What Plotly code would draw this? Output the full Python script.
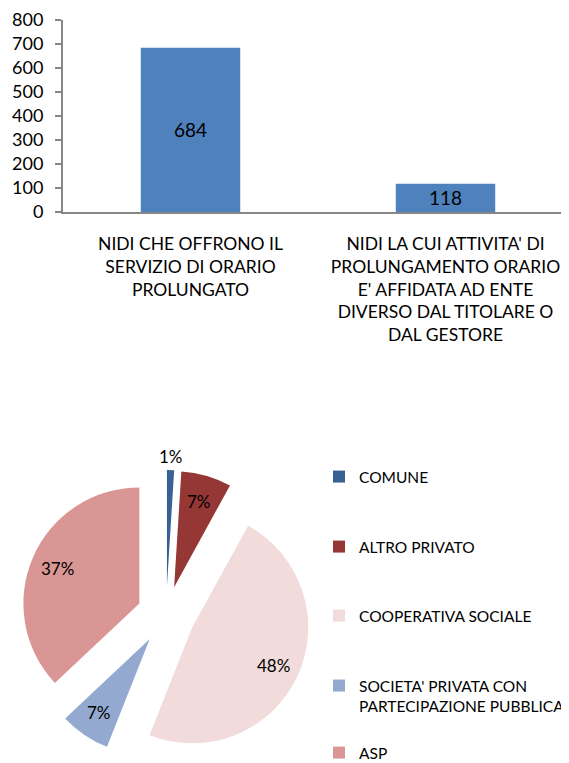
import math
import plotly.graph_objects as go

# ---- data ----
bar_categories = [
    "NIDI CHE OFFRONO IL<br>SERVIZIO DI ORARIO<br>PROLUNGATO",
    "NIDI LA CUI ATTIVITA' DI<br>PROLUNGAMENTO ORARIO<br>E' AFFIDATA AD ENTE<br>DIVERSO DAL TITOLARE O<br>DAL GESTORE",
]
bar_values = [684, 118]

pie_labels = ["COMUNE", "ALTRO PRIVATO", "COOPERATIVA SOCIALE",
              "SOCIETA' PRIVATA CON<br>PARTECIPAZIONE PUBBLICA", "ASP"]
pie_values = [1, 7, 48, 7, 37]
pie_colors = ["#3A6194", "#953735", "#F2DCDB", "#93A9CF", "#DA9694"]

# ---- layout constants (page body has an 8px margin) ----
OFF = 8
W, H = 569 - OFF, 763 - OFF
FONT = "Lato, sans-serif"
BAR_COLOR = "#4F81BD"
AXIS_COLOR = "#868686"
PULL = 0.25


def px_x(x):
    return (x - OFF) / W


def px_y(y):
    return 1 - (y - OFF) / H


fig = go.Figure()

fig.add_trace(go.Bar(
    x=bar_categories, y=bar_values,
    marker=dict(color=BAR_COLOR, line=dict(width=0)),
    texttemplate="%{y}", textposition="inside", insidetextanchor="middle",
    constraintext="none",
    textfont=dict(family=FONT, size=19, color="#000000"),
    showlegend=False, hoverinfo="skip",
))

pie_x0, pie_x1 = 21, 311
pie_y0, pie_y1 = 470, 760
fig.add_trace(go.Pie(
    labels=pie_labels, values=pie_values,
    marker=dict(colors=pie_colors, line=dict(width=0)),
    sort=False, direction="clockwise", rotation=0,
    pull=[PULL] * len(pie_values),
    textinfo="none",
    domain=dict(x=[px_x(pie_x0), px_x(pie_x1)], y=[px_y(pie_y1), px_y(pie_y0)]),
    showlegend=False,
))

# percentage labels placed along each slice's bisector (pie geometry as plotly draws it)
cx = (pie_x0 + pie_x1) / 2
cy = (pie_y0 + pie_y1) / 2
R = min(pie_x1 - pie_x0, pie_y1 - pie_y0) / (2 + 2 * PULL)
total = sum(pie_values)
annotations = []
cum = 0
for v in pie_values:
    theta = 2 * math.pi * (cum + v / 2) / total
    cum += v
    k = 1.12 if v / total < 0.03 else 0.77
    dist = PULL * R + k * R
    lx = cx + dist * math.sin(theta)
    ly = cy - dist * math.cos(theta)
    annotations.append(dict(
        x=px_x(lx), y=px_y(ly), xref="paper", yref="paper",
        text=f"{v}%", showarrow=False, xanchor="center", yanchor="middle",
        font=dict(family=FONT, size=17, color="#000000"),
    ))

# legend entries (one legend per entry to reproduce the spacing)
legend_centers = [477, 547, 616, 696, 753]
layout_legends = {}
for i, (lab, col) in enumerate(zip(pie_labels, pie_colors)):
    lid = "legend" if i == 0 else f"legend{i + 1}"
    fig.add_trace(go.Scatter(
        x=[None], y=[None], mode="markers", name=lab,
        marker=dict(symbol="square", size=12, color=col),
        legend=lid, showlegend=True, hoverinfo="skip",
    ))
    layout_legends[lid] = dict(
        x=px_x(359 - 40), xanchor="left",
        y=px_y(legend_centers[i]), yanchor="middle",
        bgcolor="rgba(0,0,0,0)", borderwidth=0,
        font=dict(family=FONT, size=15.5, color="#000000"),
        valign="top", itemclick=False, itemdoubleclick=False,
    )

fig.update_layout(
    width=W, height=H,
    margin=dict(l=0, r=0, t=0, b=0, autoexpand=False),
    paper_bgcolor="white", plot_bgcolor="white",
    font=dict(family=FONT, size=18, color="#000000"),
    bargap=0.61,
    xaxis=dict(
        domain=[px_x(63), 1], type="category",
        range=[-0.5, -0.5 + (W - (63 - OFF)) / 255],
        showline=True, linecolor=AXIS_COLOR, linewidth=2,
        ticks="", showgrid=False, zeroline=False,
        tickfont=dict(family=FONT, size=17.5, color="#000000"),
        ticklabelstandoff=15,
    ),
    yaxis=dict(
        domain=[px_y(212), px_y(20)],
        range=[0, 800], dtick=100,
        showline=True, linecolor=AXIS_COLOR, linewidth=2,
        ticks="outside", ticklen=6, tickwidth=2, tickcolor=AXIS_COLOR,
        showgrid=False, zeroline=False,
        tickfont=dict(family=FONT, size=18, color="#000000"),
        ticklabelstandoff=8,
    ),
    annotations=annotations,
    **layout_legends,
)

fig.write_html("out.html")
